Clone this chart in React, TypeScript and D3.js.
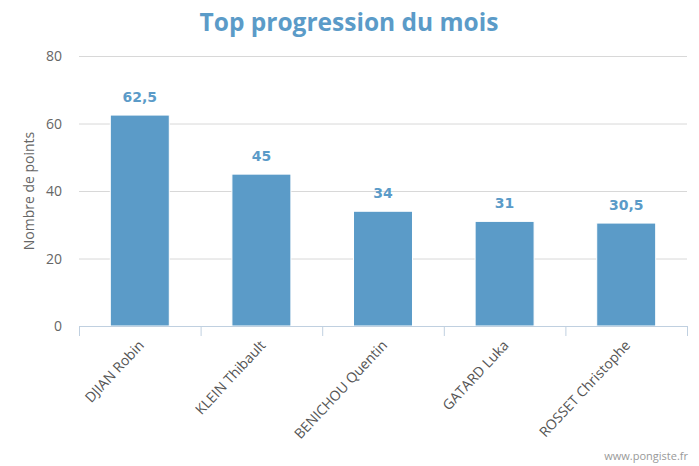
import React from "react";
import * as d3 from "d3";

const categories = ["DJIAN Robin", "KLEIN Thibault", "BENICHOU Quentin", "GATARD Luka", "ROSSET Christophe"];
const values = [62.5, 45, 34, 31, 30.5];
const valueLabels = ["62,5", "45", "34", "31", "30,5"];
const yTicks = [0, 20, 40, 60, 80];

const W = 699, H = 466;
const left = 79, right = 687, top = 56, bottom = 326;
const blue = "#5b9bc8";

export default function App() {
  const x = d3.scaleBand<string>().domain(categories).range([left, right]).paddingInner(0).paddingOuter(0);
  const y = d3.scaleLinear().domain([0, 80]).range([bottom, top]);
  const bw = x.bandwidth();
  const barW = bw * 0.485;
  const ticksX = categories.map((c) => x(c)!).concat([right]);
  return (
    <svg width={W} height={H} style={{ position: "absolute", left: 0, top: 0, fontFamily: "'Open Sans', sans-serif" }}>
      <rect width={W} height={H} fill="#fff" />
      <text x={349} y={31} textAnchor="middle" fontSize={24.5} fontWeight="bold" fill={blue}>Top progression du mois</text>
      {yTicks.map((t) => (
        <g key={t}>
          {t > 0 && <line x1={left} x2={right} y1={y(t) + 0.5} y2={y(t) + 0.5} stroke="#d8d8d8" />}
          <text x={62} y={y(t) + 5} textAnchor="end" fontSize={14} fill="#666">{t}</text>
        </g>
      ))}
      <text transform={`translate(34,${(top + bottom) / 2}) rotate(-90)`} textAnchor="middle" fontSize={14} fill="#666">Nombre de points</text>
      {categories.map((c, i) => {
        const cx = x(c)! + bw / 2;
        return (
          <g key={c}>
            <rect x={cx - barW / 2} y={y(values[i])} width={barW} height={bottom - y(values[i])} fill={blue} stroke="#fff" strokeWidth={1} />
            <text x={cx} y={y(values[i]) - 13} textAnchor="middle" fontSize={14} fontWeight="bold" fill={blue} style={{ fontFamily: "'DejaVu Sans', sans-serif" }}>{valueLabels[i]}</text>
            <text transform={`translate(${cx + 5},${bottom + 20}) rotate(-47)`} textAnchor="end" fontSize={14} fill="#555">{c}</text>
          </g>
        );
      })}
      <line x1={left} x2={right} y1={bottom + 0.5} y2={bottom + 0.5} stroke="#c0d0e0" />
      {ticksX.map((tx, i) => (
        <line key={i} x1={tx + 0.5} x2={tx + 0.5} y1={bottom} y2={bottom + 10} stroke="#c0d0e0" />
      ))}
      <text x={688} y={460} textAnchor="end" fontSize={11} fill="#999">www.pongiste.fr</text>
    </svg>
  );
}
